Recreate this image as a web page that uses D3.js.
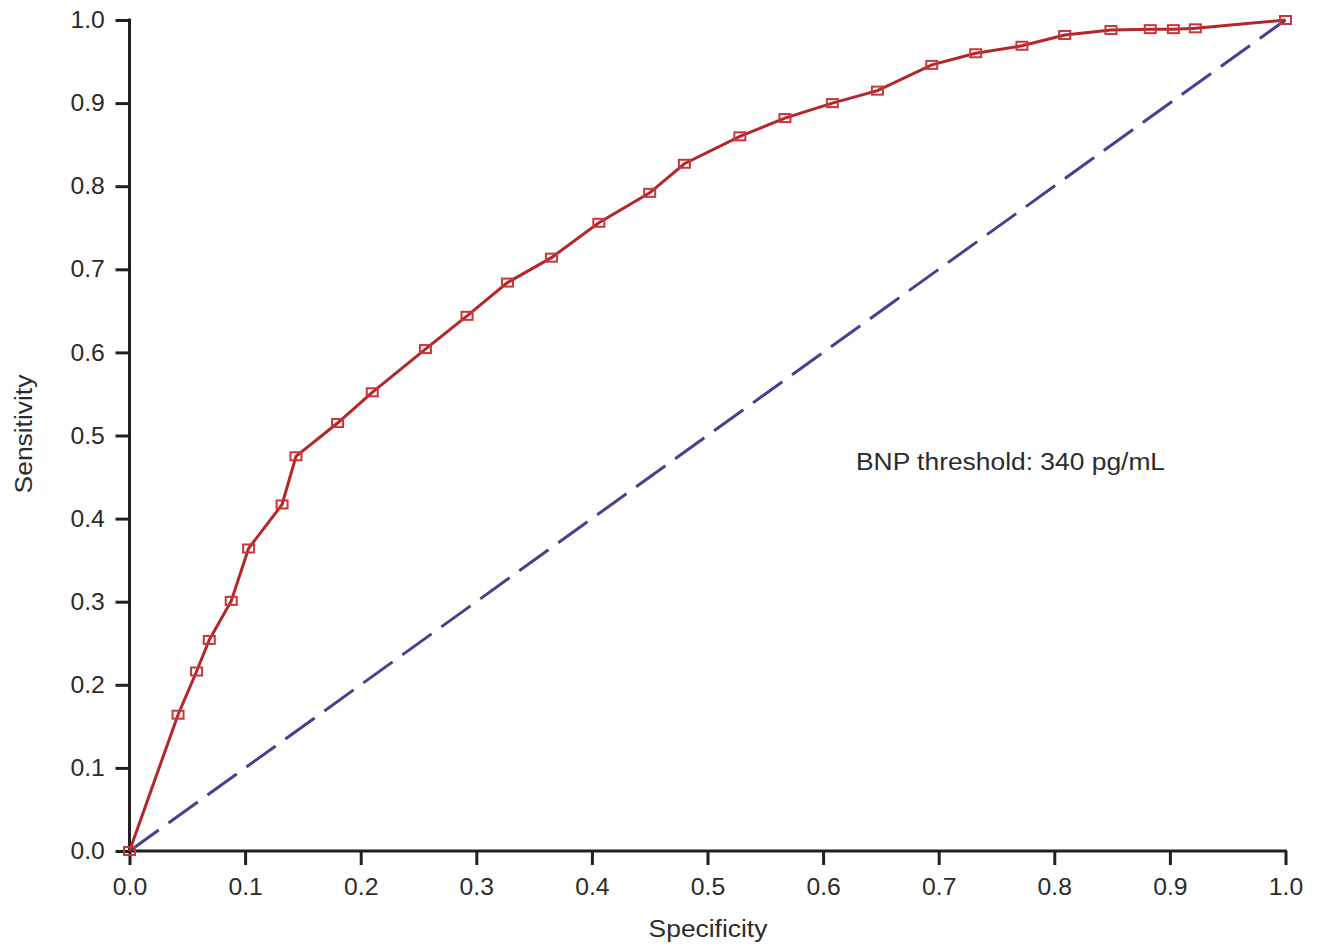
<!DOCTYPE html>
<html>
<head>
<meta charset="utf-8">
<script src="https://cdn.jsdelivr.net/npm/d3@7"></script>
<style>
  body { margin: 0; background: #fff; }
  text { font-family: "Liberation Sans", Arial, sans-serif; fill: #2b2b2b; }
</style>
</head>
<body>
<div id="canvas"></div>
<script>
"use strict"

/* ROC curve points */
let specificity = [0, 0.042, 0.058, 0.069, 0.088, 0.103, 0.132, 0.144, 0.180, 0.210,
    0.256, 0.292, 0.327, 0.365, 0.406, 0.450, 0.480, 0.528, 0.567, 0.608,
    0.647, 0.694, 0.732, 0.772, 0.809, 0.849, 0.883, 0.903, 0.922, 1.0];
let sensitivity = [0, 0.164, 0.216, 0.254, 0.301, 0.364, 0.417, 0.475, 0.515, 0.552,
    0.604, 0.644, 0.684, 0.714, 0.756, 0.792, 0.827, 0.860, 0.882, 0.900,
    0.915, 0.946, 0.960, 0.969, 0.982, 0.988, 0.989, 0.989, 0.990, 1.0];
let referenceLine = [[0, 0], [1, 1]];
let tickValues = [0, 0.1, 0.2, 0.3, 0.4, 0.5, 0.6, 0.7, 0.8, 0.9, 1.0];
let annotation = "BNP threshold: 340 pg/mL";

let drawing = d3.select("#canvas")
    .append("svg")
    .attr("width", 1319)
    .attr("height", 946);

/* plot area */
let x = d3.scaleLinear().domain([0, 1]).range([129.5, 1285.5]);
let y = d3.scaleLinear().domain([0, 1]).range([851, 20]);

/* axes */
let xAxis = drawing.append("g")
    .attr("transform", "translate(0,851)")
    .call(d3.axisBottom(x).tickValues(tickValues).tickFormat(d3.format(".1f")).tickSizeOuter(0).tickSize(14).tickPadding(13));

let yAxis = drawing.append("g")
    .attr("transform", "translate(129.5,0)")
    .call(d3.axisLeft(y).tickValues(tickValues).tickFormat(d3.format(".1f")).tickSizeOuter(0).tickSize(14).tickPadding(10));

drawing.selectAll(".domain, .tick line")
    .attr("stroke", "#231f20")
    .attr("stroke-width", 3);

// the original lettering is a little wide, so stretch it sideways
drawing.selectAll(".tick text")
    .style("font-size", "24px")
    .attr("fill", "#2b2b2b")
    .attr("transform", "scale(1.03,1)");

// x axis ends a little past 1.0 like the original
xAxis.select(".domain").attr("d", "M128,0H1287");
yAxis.select(".domain").attr("d", "M0,852.5V18.5");

/* axis titles */
drawing.append("text")
    .attr("transform", "translate(708,937) scale(1.1,1)")
    .attr("text-anchor", "middle")
    .style("font-size", "24px")
    .text("Specificity");

drawing.append("text")
    .attr("transform", "translate(32,434) rotate(-90) scale(1.1,1)")
    .attr("text-anchor", "middle")
    .style("font-size", "24px")
    .text("Sensitivity");

/* diagonal chance line */
let diag = drawing.append("path")
    .datum(referenceLine)
    .attr("d", d3.line().x(d => x(d[0])).y(d => y(d[1])))
    .attr("fill", "none")
    .attr("stroke", "#46418f")
    .attr("stroke-width", 3)
    .attr("stroke-dasharray", "36,12");

/* ROC curve */
let rocData = specificity.map((s, i) => ({ s: s, v: sensitivity[i] }));

let rocLine = drawing.append("path")
    .datum(rocData)
    .attr("d", d3.line().x(d => x(d.s)).y(d => y(d.v)))
    .attr("fill", "none")
    .attr("stroke", "#b3262b")
    .attr("stroke-width", 3);

let markers = drawing.selectAll(".marker")
    .data(rocData)
    .enter()
    .append("rect")
    .attr("class", "marker")
    .attr("x", d => x(d.s) - 5.5)
    .attr("y", d => y(d.v) - 4)
    .attr("width", 11)
    .attr("height", 8)
    .attr("fill", "none")
    .attr("stroke", "#c8363b")
    .attr("stroke-width", 2);

/* annotation */
drawing.append("text")
    .attr("transform", "translate(856,470) scale(1.1,1)")
    .style("font-size", "24px")
    .text(annotation);
</script>
</body>
</html>
